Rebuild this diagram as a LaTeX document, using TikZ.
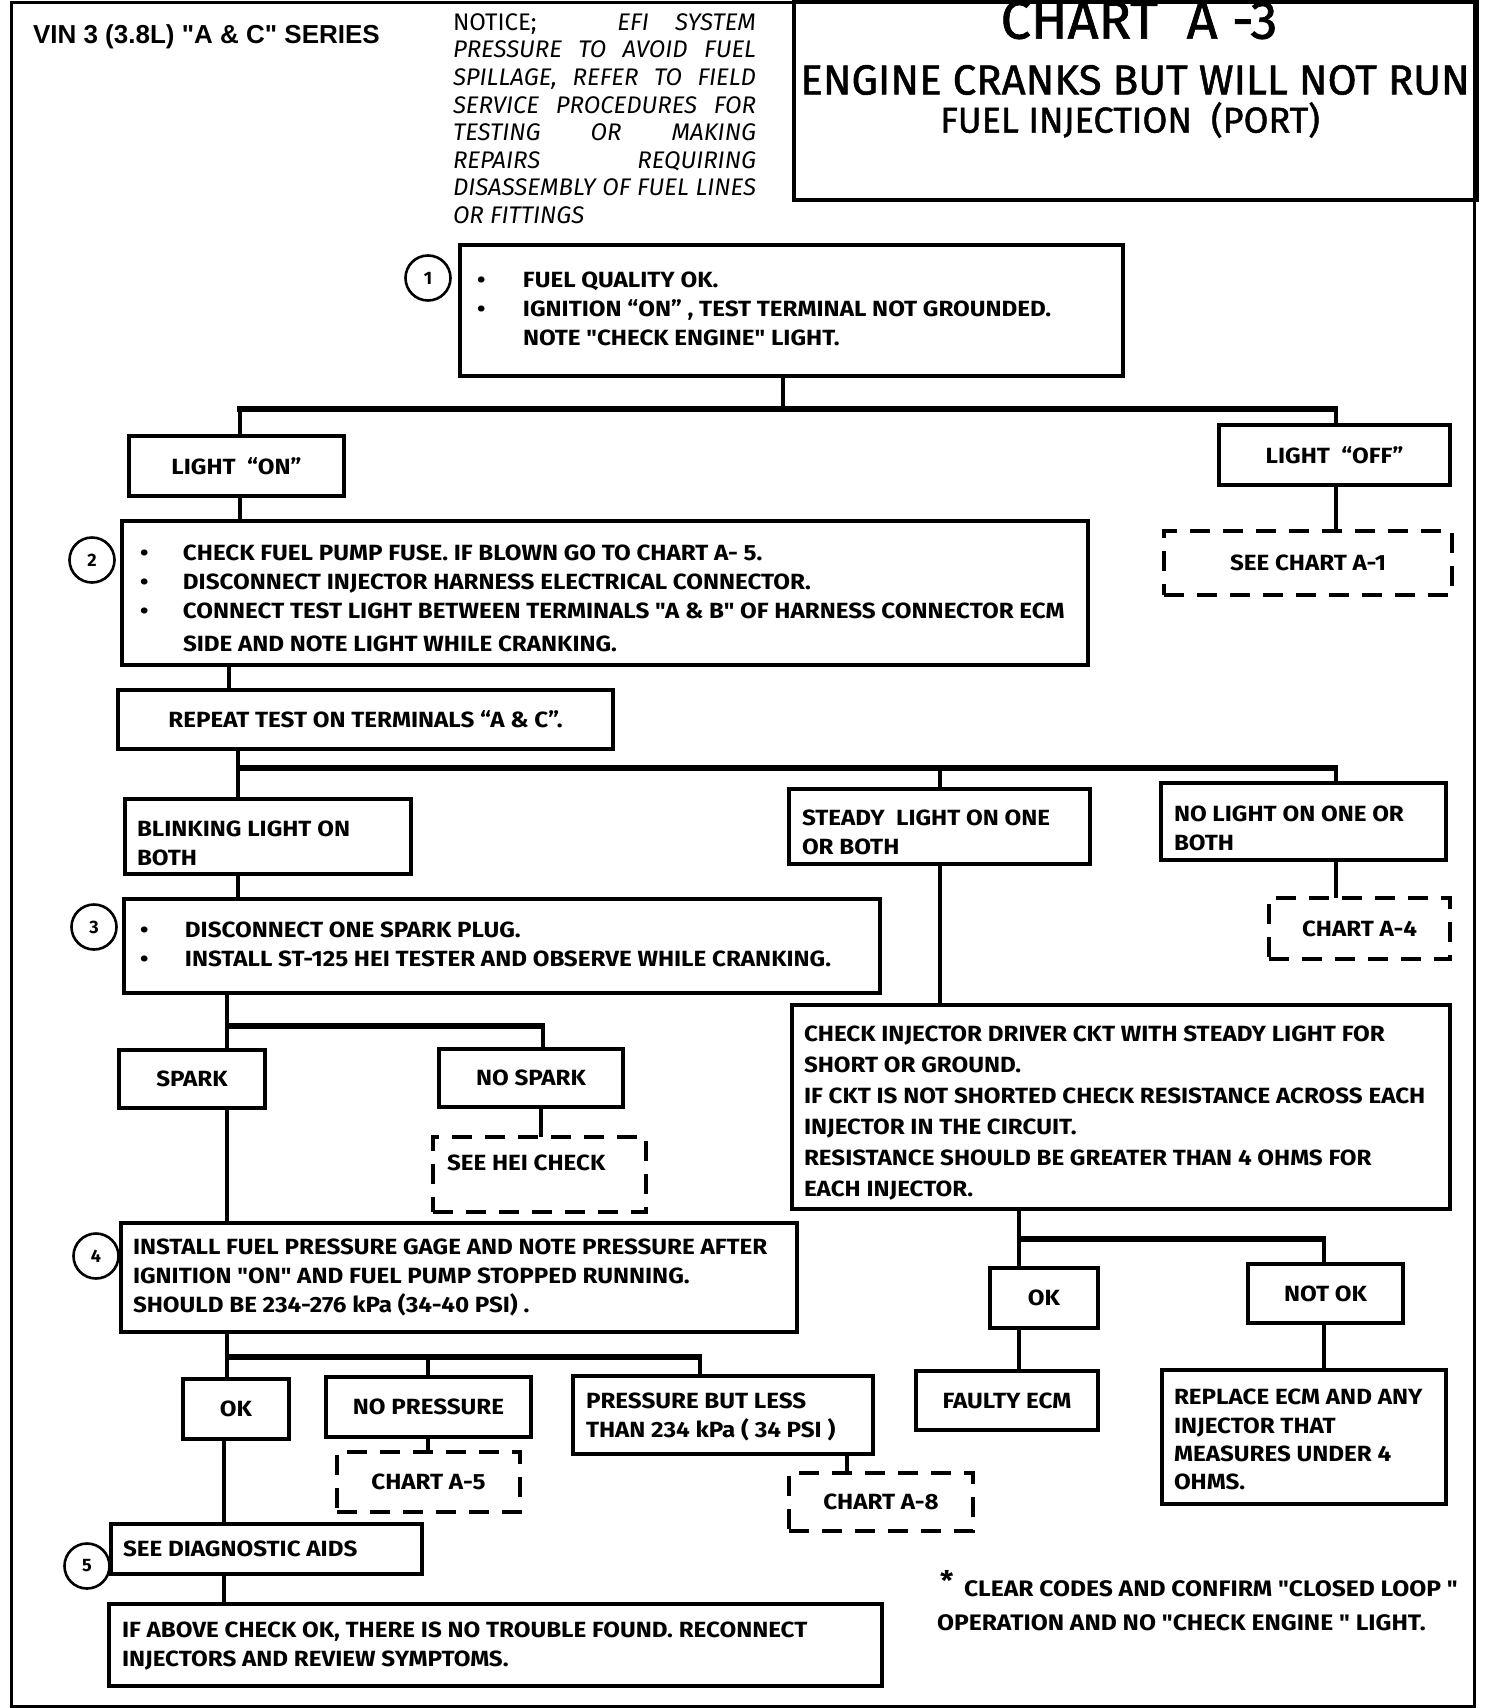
\documentclass[tikz,border=0pt]{standalone}
\usepackage{fontspec}
\setmainfont{Fira Sans}
\newfontfamily\chartfont{Fira Sans}[FakeStretch=1.1]
\newfontfamily\arialfont{Liberation Sans}
\newfontfamily\titlefont{Fira Sans}[FakeBold=1.3]
\newcommand{\bul}[2][46pt]{\makebox[#1][l]{\textbullet}#2}
\begin{document}
\begin{tikzpicture}[x=1pt,y=-1pt,
  every node/.style={inner sep=0pt, outer sep=0pt},
  txt/.style={font=\chartfont\fontsize{22}{29}\selectfont\bfseries},
  box/.style={draw, line width=3.2pt, anchor=north west},
  cbox/.style={draw, line width=3.2pt, anchor=north west, txt, align=center},
  dbox/.style={draw, line width=3.8pt, dash pattern=on 20pt off 13pt, anchor=north west, txt, align=center},
  bt/.style={txt, align=left, anchor=west},
  circ/.style={draw, circle, line width=2.6pt, minimum size=45pt, font=\fontsize{18}{20}\selectfont\bfseries},
  conn/.style={line width=4pt},
  bus/.style={line width=6pt}]
\useasboundingbox (0,0) rectangle (1504,1708);
% outer frame and title
\draw[line width=3pt] (11,2) rectangle (1474,1706);
\node[draw, line width=3.5pt, anchor=north west, minimum width=683pt, minimum height=198pt] (tb) at (794,2) {};
\node[font=\titlefont\fontsize{54}{56}\selectfont] (t1) at (1139,20) {CHART\ \ A -3};
\node[font=\titlefont\fontsize{42}{44}\selectfont] (t2) at (1135,80) {ENGINE CRANKS BUT WILL NOT RUN};
\node[font=\titlefont\fontsize{36}{38}\selectfont] (t3) at (1130,120) {FUEL INJECTION\ \ (PORT)};
\node[anchor=west, font=\arialfont\fontsize{26}{28}\selectfont\bfseries] (vin) at (33,37) {VIN 3 (3.8L) "A \& C" SERIES};
\node[anchor=north west, align=left, font=\fontsize{24}{27.6}\selectfont\itshape] (notice) at (453,13.5) {%
\makebox[303pt][s]{\upshape NOTICE;\ \ \ \itshape EFI SYSTEM}\\
\makebox[303pt][s]{PRESSURE TO AVOID FUEL}\\
\makebox[303pt][s]{SPILLAGE, REFER TO FIELD}\\
\makebox[303pt][s]{SERVICE PROCEDURES FOR}\\
\makebox[303pt][s]{TESTING OR MAKING}\\
\makebox[303pt][s]{REPAIRS REQUIRING}\\
\makebox[303pt][s]{DISASSEMBLY OF FUEL LINES}\\
OR FITTINGS};
% step 1
\node[box, minimum width=663pt, minimum height=131pt] (b1) at (460,245) {};
\node[bt] (b1t) at ([xshift=17pt,yshift=2pt]b1.west) {%
\bul{FUEL QUALITY OK.}\\
\bul{IGNITION “ON” , TEST TERMINAL NOT GROUNDED.}\\
\hspace*{46pt}NOTE "CHECK ENGINE" LIGHT.};
\node[circ] (c1) at (428,278) {1};
\node[cbox, minimum width=215pt, minimum height=60pt] (lon) at (129,436) {LIGHT\ \ “ON”};
\node[cbox, minimum width=231pt, minimum height=60pt] (loff) at (1219,425) {LIGHT\ \ “OFF”};
\node[dbox, minimum width=288pt, minimum height=64pt] (sa1) at (1164,531) {SEE CHART A-1};
% step 2
\node[box, minimum width=966pt, minimum height=144pt] (b2) at (122,521) {};
\node[bt] (b2t) at ([xshift=18pt,yshift=-5.5pt]b2.west) {%
\bul[43pt]{CHECK FUEL PUMP FUSE. IF BLOWN GO TO CHART A- 5.}\\
\bul[43pt]{DISCONNECT INJECTOR HARNESS ELECTRICAL CONNECTOR.}\\
\bul[43pt]{CONNECT TEST LIGHT BETWEEN TERMINALS "A \& B" OF HARNESS CONNECTOR ECM}\\[4pt]
\hspace*{43pt}SIDE AND NOTE LIGHT WHILE CRANKING.};
\node[circ] (c2) at (92,560) {2};
\node[cbox, minimum width=495pt, minimum height=59pt] (rep) at (118,690) {REPEAT TEST ON TERMINALS “A \& C”.};
\node[box, minimum width=286pt, minimum height=75pt] (blink) at (125,799) {};
\node[bt] (blinkt) at ([xshift=12pt,yshift=-7pt]blink.west) {BLINKING LIGHT ON\\BOTH};
\node[box, minimum width=301pt, minimum height=75pt] (steady) at (789,789) {};
\node[bt] (steadyt) at ([xshift=13pt,yshift=-5.5pt]steady.west) {STEADY\ \ LIGHT ON ONE\\OR BOTH};
\node[box, minimum width=285pt, minimum height=77pt] (nolight) at (1161,783) {};
\node[bt] (nolightt) at ([xshift=13pt,yshift=-7pt]nolight.west) {NO LIGHT ON ONE OR\\BOTH};
\node[dbox, minimum width=181pt, minimum height=61pt] (a4) at (1269,898) {CHART A-4};
% step 3
\node[box, minimum width=756pt, minimum height=94pt] (b3) at (124,899) {};
\node[bt] (b3t) at ([xshift=16pt,yshift=1.5pt]b3.west) {%
\bul[45pt]{DISCONNECT ONE SPARK PLUG.}\\
\bul[45pt]{INSTALL ST-125 HEI TESTER AND OBSERVE WHILE CRANKING.}};
\node[circ] (c3) at (94,927) {3};
\node[cbox, minimum width=146pt, minimum height=58pt] (spark) at (119,1050) {SPARK};
\node[cbox, minimum width=184pt, minimum height=58pt] (nospark) at (439,1049) {NO SPARK};
\node[box, line width=3.8pt, dash pattern=on 20pt off 13pt, minimum width=213pt, minimum height=75pt] (hei) at (433,1137) {};
\node[bt] (heit) at ([xshift=14pt,yshift=11.5pt]hei.west) {SEE HEI CHECK};
% step 4
\node[box, minimum width=676pt, minimum height=109pt] (b4) at (121,1223) {};
\node[bt] (b4t) at ([xshift=12pt]b4.west) {%
INSTALL FUEL PRESSURE GAGE AND NOTE PRESSURE AFTER\\
IGNITION "ON" AND FUEL PUMP STOPPED RUNNING.\\
SHOULD BE 234-276 kPa (34-40 PSI) .};
\node[circ] (c4) at (96,1256) {4};
\node[cbox, minimum width=106pt, minimum height=60pt] (ok1) at (183,1379) {OK};
\node[cbox, minimum width=205pt, minimum height=60pt] (nop) at (326,1377) {NO PRESSURE};
\node[dbox, minimum width=183pt, minimum height=60pt] (a5) at (337,1452) {CHART A-5};
\node[box, minimum width=300pt, minimum height=78pt] (pbl) at (573,1376) {};
\node[bt] (pblt) at ([xshift=13pt,yshift=-1.5pt]pbl.west) {PRESSURE BUT LESS\\THAN 234 kPa ( 34 PSI )};
\node[dbox, minimum width=184pt, minimum height=58pt] (a8) at (789,1473) {CHART A-8};
% step 5
\node[box, minimum width=311pt, minimum height=50pt] (diag) at (111,1524) {};
\node[bt] (diagt) at ([xshift=12pt]diag.west) {SEE DIAGNOSTIC AIDS};
\node[circ] (c5) at (87,1566) {5};
\node[box, minimum width=773pt, minimum height=82pt] (fin) at (109,1604) {};
\node[bt] (fint) at ([xshift=13pt,yshift=-1pt]fin.west) {%
IF ABOVE CHECK OK, THERE IS NO TROUBLE FOUND. RECONNECT\\
INJECTORS AND REVIEW SYMPTOMS.};
% right branch
\node[box, minimum width=658pt, minimum height=204pt] (inj) at (792,1005) {};
\node[bt, font=\chartfont\fontsize{22}{31}\selectfont\bfseries] (injt) at ([xshift=12pt,yshift=-6pt]inj.west) {%
CHECK INJECTOR DRIVER CKT WITH STEADY LIGHT FOR\\
SHORT OR GROUND.\\
IF CKT IS NOT SHORTED CHECK RESISTANCE ACROSS EACH\\
INJECTOR IN THE CIRCUIT.\\
RESISTANCE SHOULD BE GREATER THAN 4 OHMS FOR\\
EACH INJECTOR.};
\node[cbox, minimum width=108pt, minimum height=60pt] (ok2) at (990,1268) {OK};
\node[cbox, minimum width=155pt, minimum height=59pt] (notok) at (1248,1264) {NOT OK};
\node[cbox, minimum width=182pt, minimum height=59pt] (fecm) at (916,1371) {FAULTY ECM};
\node[box, minimum width=284pt, minimum height=134pt] (repl) at (1162,1370) {};
\node[bt, font=\chartfont\fontsize{22}{28.3}\selectfont\bfseries] (replt) at ([xshift=12pt,yshift=-2.7pt]repl.west) {%
REPLACE ECM AND ANY\\INJECTOR THAT\\MEASURES UNDER 4\\OHMS.};
\node[anchor=west, align=left, font=\chartfont\fontsize{22.4}{34}\selectfont\bfseries] (note) at (937,1606) {%
\makebox[27pt][l]{\hspace*{3pt}\smash{\raisebox{6pt}{\fontsize{27}{27}\selectfont *}}}CLEAR CODES AND CONFIRM "CLOSED LOOP "\\
OPERATION AND NO "CHECK ENGINE " LIGHT.};
% bus coordinates
\coordinate (k1) at (783,409);
\coordinate (k1l) at (240,409);
\coordinate (k1r) at (1336,409);
\coordinate (k2) at (238,768);
\coordinate (k2m) at (940,768);
\coordinate (k2r) at (1336,768);
\coordinate (k3) at (227,1026);
\coordinate (k3r) at (543,1026);
\coordinate (k4) at (227,1357);
\coordinate (k4m) at (428,1357);
\coordinate (k4r) at (700,1357);
\coordinate (k5) at (1019,1239);
\coordinate (k5r) at (1324,1239);
% connectors
\draw[bus] ([xshift=-3pt]k1l) -- ([xshift=2pt]k1r);
\draw[conn] (k1 |- b1.south) -- (k1);
\draw[conn] (k1l) -- (k1l |- lon.north);
\draw[conn] (k1r) -- (k1r |- loff.north);
\draw[conn] (k1r |- loff.south) -- (k1r |- sa1.north);
\draw[conn] (k1l |- lon.south) -- (k1l |- b2.north);
\draw[conn] (229,0 |- b2.south) -- (229,0 |- rep.north);
\draw[bus] ([xshift=-2pt]k2) -- ([xshift=2pt]k2r);
\draw[conn] (k2 |- rep.south) -- (k2);
\draw[conn] (k2) -- (k2 |- blink.north);
\draw[conn] (k2m) -- (k2m |- steady.north);
\draw[conn] (k2r) -- (k2r |- nolight.north);
\draw[conn] (k2r |- nolight.south) -- (k2r |- a4.north);
\draw[conn] (k2 |- blink.south) -- (k2 |- b3.north);
\draw[conn] (k2m |- steady.south) -- (k2m |- inj.north);
\draw[bus] ([xshift=-2pt]k3) -- ([xshift=2pt]k3r);
\draw[conn] (k3 |- b3.south) -- (k3);
\draw[conn] (k3) -- (k3 |- spark.north);
\draw[conn] (k3r) -- (k3r |- nospark.north);
\draw[conn] (541,0 |- nospark.south) -- (541,0 |- hei.north);
\draw[conn] (k3 |- spark.south) -- (k3 |- b4.north);
\draw[bus] ([xshift=-2pt]k4) -- ([xshift=2pt]k4r);
\draw[conn] (k4 |- b4.south) -- (k4);
\draw[conn] (k4) -- (k4 |- ok1.north);
\draw[conn] (k4m) -- (k4m |- nop.north);
\draw[conn] (k4r) -- (k4r |- pbl.north);
\draw[conn] (k4m |- nop.south) -- (k4m |- a5.north);
\draw[conn] (847,0 |- pbl.south) -- (847,0 |- a8.north);
\draw[conn] (224,0 |- ok1.south) -- (224,0 |- diag.north);
\draw[conn] (224,0 |- diag.south) -- (224,0 |- fin.north);
\draw[bus] ([xshift=-2pt]k5) -- ([xshift=2pt]k5r);
\draw[conn] (k5 |- inj.south) -- (k5);
\draw[conn] (k5) -- (k5 |- ok2.north);
\draw[conn] (k5r) -- (k5r |- notok.north);
\draw[conn] (k5 |- ok2.south) -- (k5 |- fecm.north);
\draw[conn] (k5r |- notok.south) -- (k5r |- repl.north);
\end{tikzpicture}
\end{document}
